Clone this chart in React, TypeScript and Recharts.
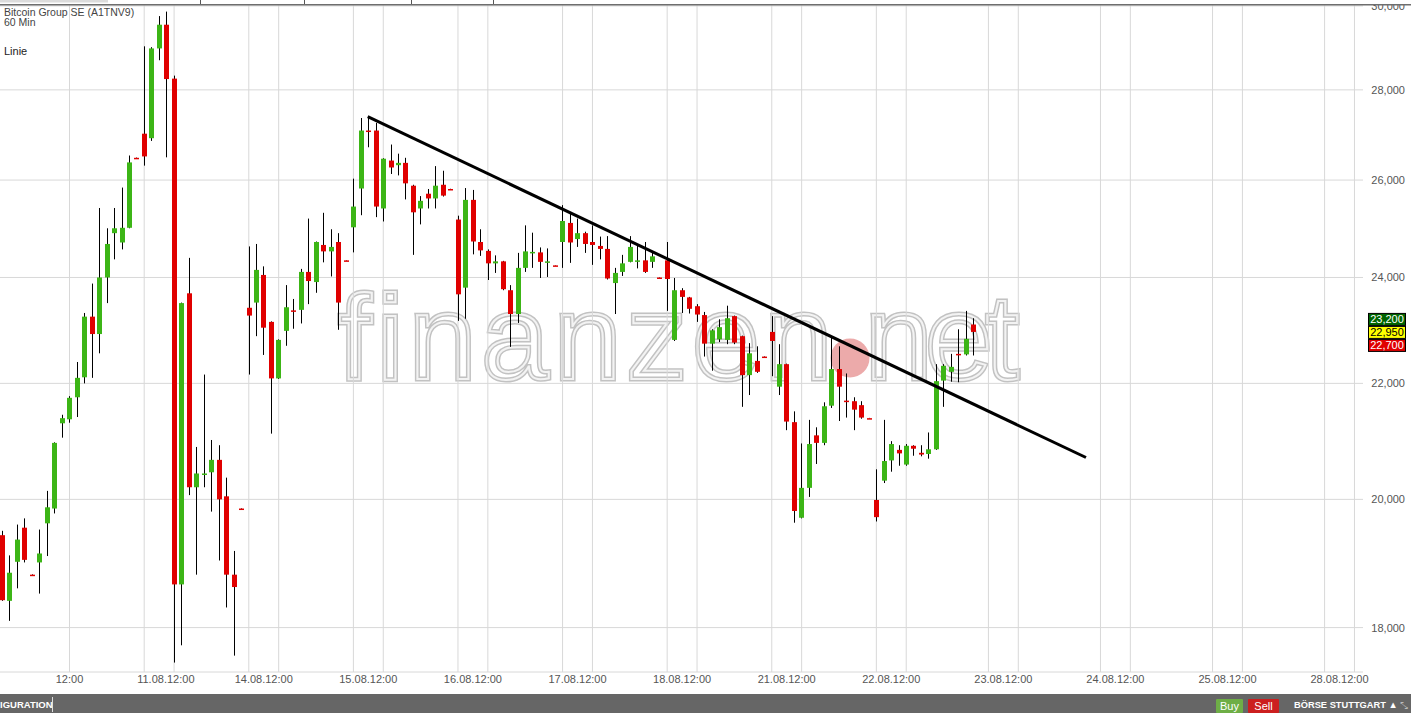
import React from "react";
import { ComposedChart, Bar, XAxis, YAxis, CartesianGrid, ReferenceLine } from "recharts";

// Bitcoin Group SE, 60-min candles 09.08. 17:00 -> 22.08. 21:00 (14 slots per trading day)
const OPEN = [
  19420, 18400, 19000, 19540, 18800, 18990, 19610, 19850, 21290, 21360,
  21750, 22110, 23240, 22910, 24000, 24890, 24700, 25000, 26480, 27010,
  26910, 28970, 29540, 28260, 18650, 23690, 20200, 20410, 20450, 20660,
  20050, 18800, 19850, 23410, 23510, 24050, 23140, 22090, 22970, 23360,
  23370, 24110, 23910, 24650, 24520, 24710, 24340, 25010, 25820, 27080,
  27080, 25400, 26420, 26320, 26370, 25880, 25400, 25710, 25610, 25900,
  25810, 25170, 23800, 25580, 24710, 24530, 24280, 24320, 23750, 23290,
  24190, 24490, 24500, 24290, 24240, 24710, 25100, 24770, 24890, 24710,
  24630, 24570, 23890, 24110, 24310, 24310, 24340, 24310, 24000, 24340,
  22800, 23750, 23610, 23440, 23270, 22730, 22810, 22800, 23250, 22870,
  22150, 22410, 22490, 22950, 21940, 22350, 21310, 19700, 20190, 21080,
  20950, 21600, 22260, 21690, 21680, 21610, 21380, 19990, 20310, 20650,
  20830, 20580, 20900, 20780, 20760, 20840, 22050, 22210, 22540, 22530,
  23090,
];
const HIGH = [
  19490, 19100, 19590, 19690, 18805, 19510, 20140, 20960, 21440, 21770,
  22390, 23310, 23880, 25410, 24990, 25410, 25840, 26530, 26485, 29020,
  29000, 29750, 29860, 28330, 23510, 24390, 20880, 22160, 21000, 20910,
  20360, 19170, 19855, 24620, 24670, 24220, 23150, 22810, 23850, 23580,
  24170, 25190, 24720, 25310, 24970, 24890, 24345, 26030, 27360, 27400,
  27250, 26470, 26770, 26570, 26480, 25900, 25660, 25810, 26300, 26200,
  25815, 25250, 25830, 25790, 24970, 24560, 24440, 24330, 23850, 24490,
  25050, 24900, 24600, 24580, 24245, 25470, 25300, 25190, 24920, 25050,
  24820, 24830, 24190, 24450, 24830, 24630, 24710, 24530, 24005, 24710,
  23990, 23790, 23620, 23480, 23330, 23000, 23190, 23450, 23260, 22880,
  22740, 22680, 22495, 23250, 22720, 22360, 21500, 20940, 21350, 21220,
  21660, 22840, 22680, 22180, 21750, 21680, 21385, 20500, 21350, 20980,
  20910, 20930, 20910, 20910, 21130, 22350, 22350, 22540, 23000, 23350,
  23210,
];
const LOW = [
  18400, 18100, 18590, 18990, 18795, 18510, 19090, 19770, 21040, 21300,
  21400, 22000, 22100, 22550, 23500, 24360, 24560, 24990, 26475, 26310,
  26850, 28690, 26490, 17490, 17740, 20070, 18800, 20200, 19800, 19020,
  18300, 17590, 19845, 22160, 22870, 22520, 21110, 22080, 22690, 23010,
  23110, 23480, 23700, 24300, 24020, 22990, 24335, 24500, 25260, 26710,
  25220, 25130, 26130, 26100, 25590, 24450, 25070, 25400, 25400, 25650,
  25805, 23160, 23200, 24460, 24430, 23950, 24090, 23750, 22670, 23120,
  24110, 24190, 23990, 24010, 24235, 24190, 24290, 24610, 24490, 24250,
  24360, 23960, 23290, 24030, 24300, 24180, 24090, 24190, 23995, 23350,
  22780, 23310, 23300, 23140, 22490, 22230, 22760, 22720, 22720, 21580,
  21790, 22190, 22485, 22130, 21790, 21170, 19620, 19690, 20040, 20590,
  20910, 21560, 21330, 21390, 21170, 21370, 21375, 19640, 20270, 20460,
  20560, 20560, 20730, 20720, 20680, 20830, 21580, 22030, 22020, 22510,
  22510,
];
const CLOSE = [
  18410, 18830, 19350, 19030, 18800, 19130, 19870, 20950, 21380, 21740,
  22100, 23240, 22910, 24000, 24670, 24990, 25000, 26380, 26480, 26510,
  28970, 29540, 28250, 18650, 23500, 20200, 20430, 20430, 20660, 20000,
  18800, 18610, 19850, 23260, 24150, 23030, 22090, 22800, 23420, 23360,
  24110, 23930, 24710, 24520, 24610, 23510, 24340, 25440, 27080, 27080,
  25440, 26460, 26270, 26370, 25930, 25320, 25560, 25610, 25880, 25670,
  25810, 23670, 25580, 24720, 24540, 24280, 24320, 23770, 23290, 24190,
  24520, 24510, 24310, 24320, 24240, 25140, 24700, 24890, 24670, 24650,
  24570, 23980, 24090, 24280, 24610, 24340, 24110, 24420, 24000, 23970,
  23750, 23620, 23390, 23280, 22730, 22980, 23040, 23210, 22750, 22150,
  22550, 22210, 22490, 22780, 22350, 21320, 19810, 20190, 20930, 20950,
  21590, 22260, 21940, 21690, 21530, 21390, 21380, 19710, 20640, 20930,
  20770, 20900, 20850, 20750, 20840, 22040, 22320, 22300, 22540, 22820,
  22950,
];

// x axis: slot index (8:00 and 12:00 grid lines, one label per day)
const GRID_SLOTS = [9, 19, 23, 33, 37, 47, 51, 61, 65, 75, 79, 89, 93, 103, 107, 117, 121, 132, 136, 147, 151, 162, 166, 177, 181];
const TICK_SLOTS = [9, 21.9, 35, 49, 63, 77, 91, 105, 119, 134, 149, 164, 179];
const TICK_LABELS = [
  "12:00", "11.08.12:00", "14.08.12:00", "15.08.12:00", "16.08.12:00", "17.08.12:00", "18.08.12:00",
  "21.08.12:00", "22.08.12:00", "23.08.12:00", "24.08.12:00", "25.08.12:00", "28.08.12:00",
];
const X_DOMAIN = [-0.301, 182.14];

const Y_TICKS = [18000, 20000, 22000, 24000, 26000, 28000, 30000];
const Y_DOMAIN = [17355, 30146];

const TREND = [
  { slot: 48.92, price: 27390 },
  { slot: 145.06, price: 20700 },
];

const ASK = 23200;
const LAST = 22950;
const BID = 22700;

const GREEN = "#3cb516";
const RED = "#e00000";
const FONT = "'Liberation Sans', Arial, sans-serif";
const NARROW = "'Liberation Sans Narrow', 'Liberation Sans', Arial, sans-serif";

const candles = OPEN.map((open, i) => ({
  slot: i,
  open,
  high: HIGH[i],
  low: LOW[i],
  close: CLOSE[i],
}));

const fmt = (v: number) => v.toLocaleString("en-US");

function Candle(props: any) {
  const { x, y, width, height, payload } = props;
  if (!payload || !isFinite(y) || !isFinite(height)) return null;
  const { open, high, low, close } = payload;
  const span = Math.log(high) - Math.log(low);
  const py = (p: number) => y + (height * (Math.log(high) - Math.log(p))) / span;
  const cx = Math.round(x + width / 2) + 0.5;
  const top = py(Math.max(open, close));
  const bot = py(Math.min(open, close));
  const h = Math.max(bot - top, 1.5);
  return (
    <g>
      <line x1={cx} x2={cx} y1={y} y2={y + height} stroke="#000" strokeWidth={1} />
      <rect x={cx - 2.5} y={top} width={5} height={h} fill={close > open ? GREEN : RED} />
    </g>
  );
}

function TimeTick(props: any) {
  const { x, y, payload } = props;
  const idx = TICK_SLOTS.indexOf(payload.value);
  return (
    <text x={x} y={y + 11} textAnchor="middle" fontSize={11} fontFamily={FONT} fill="#555">
      {TICK_LABELS[idx]}
    </text>
  );
}

function PriceTick(props: any) {
  const { x, y, payload } = props;
  return (
    <text x={x + 42} y={y + 4} textAnchor="end" fontSize={11} fontFamily={FONT} fill="#555">
      {fmt(payload.value)}
    </text>
  );
}

function PriceTags(props: any) {
  const vb = props.viewBox || {};
  const x = (vb.x || 0) + (vb.width || 0) + 5;
  const y = vb.y || 0;
  const tags = [
    { v: ASK, bg: "#006400", fg: "#fff", dy: -19 },
    { v: LAST, bg: "#ffff00", fg: "#000", dy: -6 },
    { v: BID, bg: RED, fg: "#fff", dy: 7 },
  ];
  return (
    <g>
      {tags.map((t) => (
        <g key={t.v}>
          <rect x={x + 0.5} y={y + t.dy + 0.5} width={37} height={12} fill={t.bg} stroke="#000" />
          <text x={x + 19} y={y + t.dy + 10.5} textAnchor="middle" fontSize={11} fontFamily={FONT} fill={t.fg}>
            {fmt(t.v)}
          </text>
        </g>
      ))}
    </g>
  );
}

function Watermark() {
  const word = (text: string, x: number, len: number) => (
    <g key={text}>
      <text x={x} y={379} textLength={len} lengthAdjust="spacing" fill="#fff" stroke="#c2c2c2" strokeWidth={5}>
        {text}
      </text>
      <text x={x} y={379} textLength={len} lengthAdjust="spacing" fill="none" stroke="#f3f3f3" strokeWidth={2}>
        {text}
      </text>
    </g>
  );
  return (
    <svg width={1411} height={713} style={{ position: "absolute", left: 0, top: 0 }}>
      <g fontFamily={FONT} fontSize={121}>
        {word("finanzen", 338, 494)}
        {word("net", 865, 154)}
      </g>
      <circle cx={850} cy={358} r={19.5} fill="#ecaaaa" />
    </svg>
  );
}

function Frame() {
  return (
    <svg width={1411} height={713} style={{ position: "absolute", left: 0, top: 0, pointerEvents: "none" }}>
      <rect x={0} y={0} width={1411} height={4} fill="#fff" />
      <rect x={0} y={0} width={108} height={2.5} fill="#dcdcdc" />
      {[200, 304, 411, 493].map((sx) => (
        <line key={sx} x1={sx + 0.5} x2={sx + 0.5} y1={0} y2={4} stroke="#555" />
      ))}
      <rect x={0} y={4} width={1411} height={1.5} fill="#6e6e6e" />
      <g fontFamily={FONT} fontSize={10.5} fill="#444">
        <text x={4} y={15.5}>Bitcoin Group SE (A1TNV9)</text>
        <text x={4} y={25.5}>60 Min</text>
      </g>
      <text x={4} y={55} fontFamily={FONT} fontSize={11} fill="#222">
        Linie
      </text>
      <rect x={0} y={694} width={1411} height={19} fill="#666" />
      <text x={0} y={708} fontFamily={NARROW} fontWeight="bold" fontSize={9.5} fill="#fff">
        IGURATION
      </text>
      <line x1={52.5} x2={52.5} y1={697} y2={712} stroke="#ddd" />
      <rect x={1216} y={699} width={27} height={14} rx={1} fill="#6eae46" />
      <text x={1229.5} y={710} textAnchor="middle" fontFamily={FONT} fontSize={11} fill="#fff">
        Buy
      </text>
      <rect x={1248} y={699} width={31} height={14} rx={1} fill="#cc1f1f" />
      <text x={1263.5} y={710} textAnchor="middle" fontFamily={FONT} fontSize={11} fill="#fff">
        Sell
      </text>
      <text x={1294} y={708} fontFamily={NARROW} fontWeight="bold" fontSize={9.3} fill="#fff">
        BÖRSE STUTTGART ▲
      </text>
      <text x={1400} y={709} fontFamily={FONT} fontSize={10} fill="#bbb">
        ⤡
      </text>
    </svg>
  );
}

export default function App() {
  return (
    <div style={{ position: "absolute", left: 0, top: 0, width: 1411, height: 713, background: "#fff", overflow: "hidden" }}>
      <Watermark />
      <div style={{ position: "absolute", left: 0, top: 0 }}>
        <ComposedChart width={1411} height={694} data={candles} margin={{ top: 0, right: 0, bottom: 0, left: 0 }}>
          <CartesianGrid
            stroke="#d8d8d8"
            verticalCoordinatesGenerator={({ xAxis, offset }: any) =>
              GRID_SLOTS.map((s) =>
                xAxis && typeof xAxis.scale === "function"
                  ? xAxis.scale(s)
                  : offset.left + ((s - X_DOMAIN[0]) / (X_DOMAIN[1] - X_DOMAIN[0])) * offset.width
              )
            }
          />
          <XAxis
            dataKey="slot"
            type="number"
            domain={X_DOMAIN}
            allowDataOverflow
            ticks={TICK_SLOTS}
            interval={0}
            height={22}
            axisLine={false}
            tickLine={false}
            tickSize={0}
            tickMargin={0}
            tick={<TimeTick />}
          />
          <YAxis
            orientation="right"
            type="number"
            scale="log"
            domain={Y_DOMAIN}
            allowDataOverflow
            ticks={Y_TICKS}
            interval={0}
            width={48}
            axisLine={false}
            tickLine={false}
            tickSize={0}
            tickMargin={0}
            tick={<PriceTick />}
          />
          <Bar
            dataKey={(d: any) => [d.low, d.high]}
            barSize={5}
            shape={<Candle />}
            isAnimationActive={false}
          />
          <ReferenceLine
            segment={[
              { x: TREND[0].slot, y: TREND[0].price },
              { x: TREND[1].slot, y: TREND[1].price },
            ]}
            stroke="#000"
            strokeWidth={3}
          />
          <ReferenceLine y={LAST} stroke="none" strokeOpacity={0} label={(p: any) => <PriceTags {...p} />} />
        </ComposedChart>
      </div>
      <Frame />
    </div>
  );
}
